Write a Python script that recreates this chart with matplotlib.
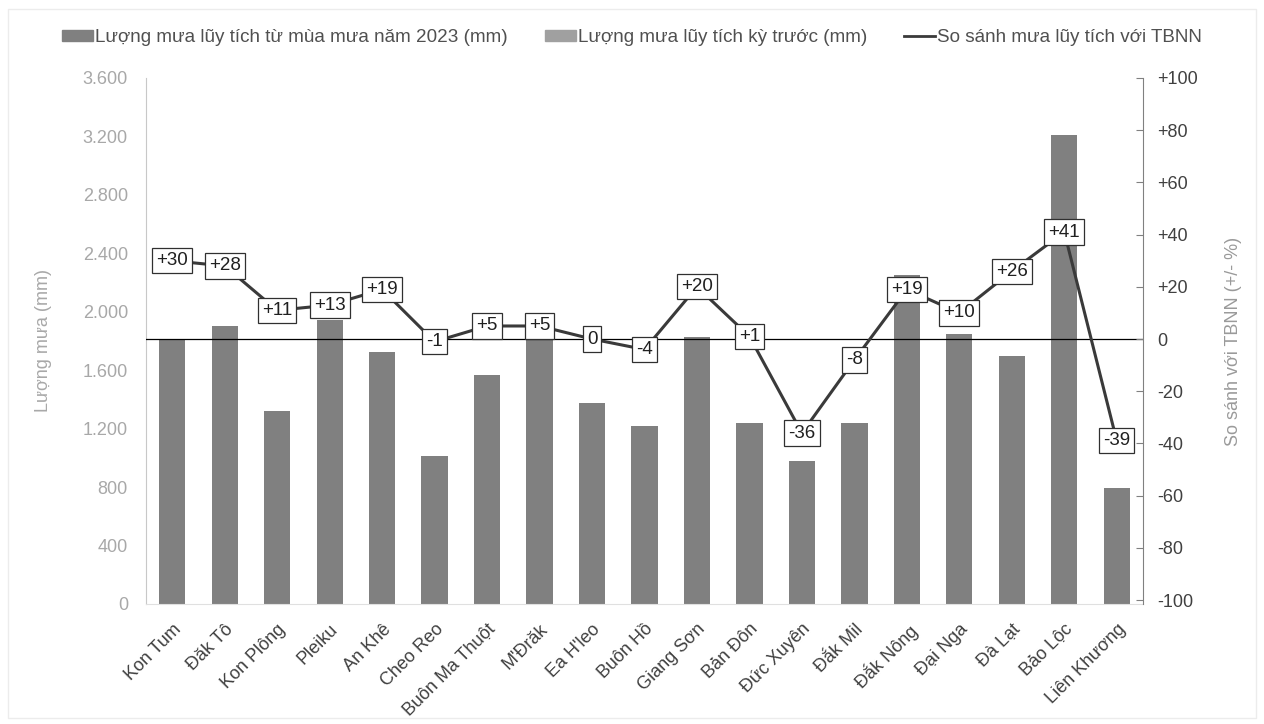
import numpy as np
import matplotlib
matplotlib.use("Agg")
import matplotlib.pyplot as plt
import matplotlib.patches as mpatches
from matplotlib.lines import Line2D
from matplotlib.ticker import FuncFormatter

plt.rcParams['font.family'] = ['Liberation Sans', 'DejaVu Sans']

stations = ["Kon Tum", "Đăk Tô", "Kon Plông", "Pleiku", "An Khê", "Cheo Reo",
            "Buôn Ma Thuột", "M'Đrăk", "Ea H'leo", "Buôn Hồ", "Giang Sơn",
            "Bản Đôn", "Đức Xuyên", "Đắk Mil", "Đắk Nông", "Đại Nga", "Đà Lạt",
            "Bảo Lộc", "Liên Khương"]
rain_2023 = [1815, 1900, 1320, 1945, 1725, 1015, 1570, 1830, 1378, 1220, 1830,
             1240, 980, 1242, 2252, 1850, 1700, 3210, 795]
vs_tbnn = [30, 28, 11, 13, 19, -1, 5, 5, 0, -4, 20, 1, -36, -8, 19, 10, 26, 41, -39]

bar_color = "#808080"
line_color = "#3a3a3a"
light_txt = "#a8a8a8"
dark_txt = "#404040"
fs = 13

fig = plt.figure(figsize=(12.64, 7.24), dpi=100)
ax = fig.add_axes([146 / 1264, 1 - 604 / 724, (1143 - 146) / 1264, (604 - 78) / 724])
ax2 = ax.twinx()

x = np.arange(len(stations))
ax.bar(x, rain_2023, width=0.5, color=bar_color, zorder=2)
ax.set_xlim(-0.5, len(stations) - 0.5)
ax.set_ylim(0, 3600)
ax.set_yticks(np.arange(0, 3601, 400))
ax.yaxis.set_major_formatter(FuncFormatter(lambda v, p: f"{int(v):,}".replace(",", ".")))
ax.tick_params(axis='y', length=0, labelsize=fs, labelcolor=light_txt, pad=13)
ax.set_xticks(x)
ax.set_xticklabels(stations, rotation=45, ha='right', rotation_mode='anchor',
                   fontsize=fs, color=dark_txt)
ax.tick_params(axis='x', length=0, pad=12)
for s in ["top", "right"]:
    ax.spines[s].set_visible(False)
ax.spines["left"].set_color("#c8c8c8")
ax.spines["bottom"].set_color("#e0e0e0")
ax.set_ylabel("Lượng mưa (mm)", color=light_txt, fontsize=fs, labelpad=22)

# right axis: percentage vs long-term average
ax2.set_ylim(-101.5, 98.9)
ax2.set_yticks(np.arange(-100, 101, 20))
ax2.yaxis.set_major_formatter(FuncFormatter(lambda v, p: f"{int(v):+d}" if v > 0 else f"{int(v)}"))
ax2.tick_params(axis='y', direction='in', length=5, color="#808080",
                labelsize=fs, labelcolor=dark_txt, pad=10)
for s in ["top", "left", "bottom"]:
    ax2.spines[s].set_visible(False)
ax2.spines["right"].set_color("#808080")
ax2.set_ylabel("So sánh với TBNN (+/- %)", color="#9a9a9a", fontsize=fs, labelpad=20)
ax2.axhline(0, color="black", lw=0.9, zorder=1)
ax2.plot(x, vs_tbnn, color=line_color, lw=2.2, zorder=3)
for xi, v in zip(x, vs_tbnn):
    lab = f"{v:+d}" if v > 0 else f"{v}"
    ax2.text(xi, v, lab, ha='center', va='center', fontsize=13.5, color="#202020", zorder=4,
             bbox=dict(boxstyle='square,pad=0.22', fc='white', ec='#303030', lw=0.9))

handles = [mpatches.Patch(color=bar_color),
           mpatches.Patch(color="#a0a0a0"),
           Line2D([0], [0], color=line_color, lw=2)]
labels = ["Lượng mưa lũy tích từ mùa mưa năm 2023 (mm)",
          "Lượng mưa lũy tích kỳ trước (mm)",
          "So sánh mưa lũy tích với TBNN"]
fig.legend(handles, labels, loc='center', bbox_to_anchor=(0.5, 1 - 38 / 724), ncol=3,
           frameon=False, fontsize=13.6, handlelength=1.65, handleheight=0.5,
           handletextpad=0.1, columnspacing=1.95, labelcolor="#505050")

fig.add_artist(mpatches.Rectangle((0.006, 0.008), 0.988, 0.98, transform=fig.transFigure,
                                  fill=False, ec="#ececec", lw=1))

fig.savefig("out.png", dpi=100, facecolor="white")
